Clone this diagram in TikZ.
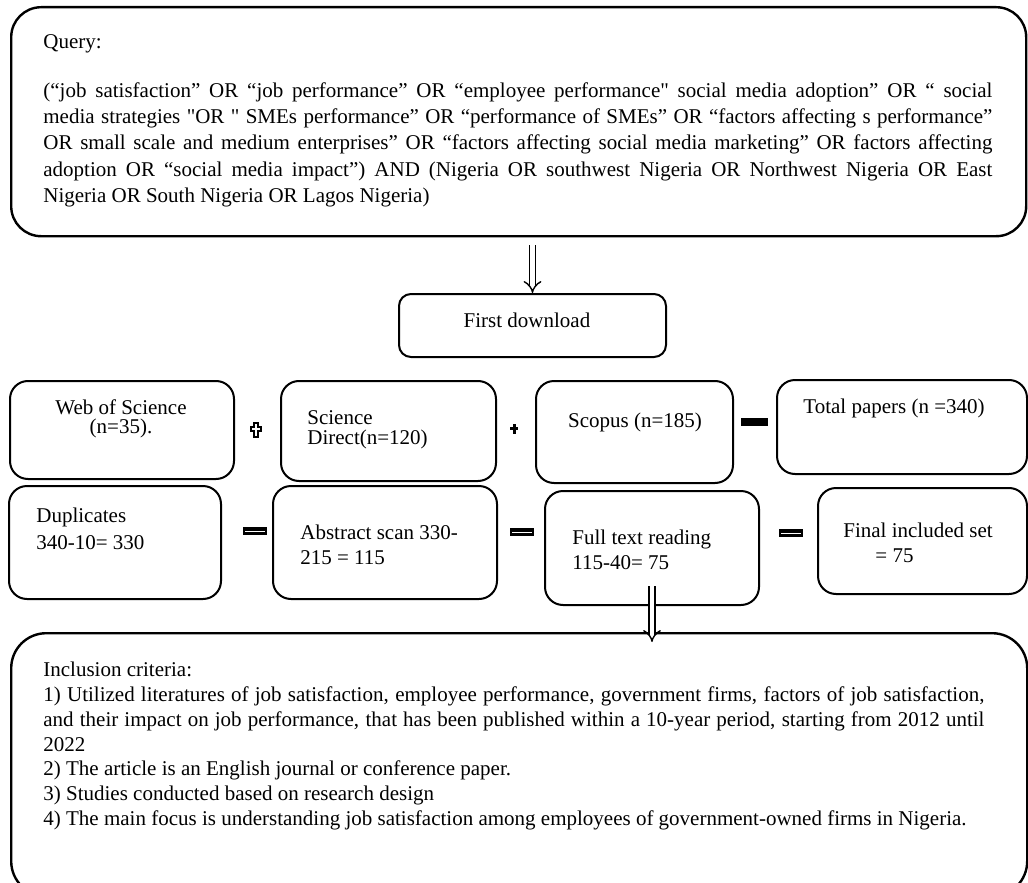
\documentclass[tikz,border=0pt]{standalone}
\usepackage{fontspec}
\setmainfont{Liberation Serif}[Ligatures=TeXOff]
\usetikzlibrary{arrows.meta}

\tikzset{
  box/.style={draw, line width=1pt, rounded corners=9pt, inner sep=0pt, anchor=north west},
  bigbox/.style={box, line width=1.2pt, rounded corners=16pt},
  txt/.style={inner sep=0pt, align=left, font=\fontsize{10.5}{12.5}\selectfont},
  flow/.style={double, double distance=2.4pt, line width=0.7pt, -{Implies[scale=1.5]}},
}

\begin{document}
\begin{tikzpicture}[x=0.5pt, y=-0.5pt]

  \newcommand\Px{0.5pt}
  \newcommand\EqBar[2]{\fill (#1-12,#2-4) rectangle (#1+12,#2+4);
    \draw[white, line width=0.5pt] (#1-10,#2) -- (#1+10,#2);}
  \newcommand\PlusOpen[2]{\draw[fill=white, line width=0.7pt] (#1-2,#2-7) -- (#1+2,#2-7) -- (#1+2,#2-3) -- (#1+5,#2-3) -- (#1+5,#2+1) -- (#1+2,#2+1) -- (#1+2,#2+7) -- (#1-2,#2+7) -- (#1-2,#2+1) -- (#1-5,#2+1) -- (#1-5,#2-3) -- (#1-2,#2-3) -- cycle;}
  \newcommand\PlusFill[2]{\fill (#1-1.5,#2-5) rectangle (#1+1.5,#2+5);
    \fill (#1-4,#2-2) rectangle (#1+4,#2+1);}

  \useasboundingbox (0,0) rectangle (1028,883);

  \node[bigbox, rounded corners=15pt, minimum width=1015*\Px, minimum height=229*\Px] (query) at (10,6) {};
  \node[box, rounded corners=6pt, minimum width=267*\Px, minimum height=63*\Px] (first) at (398,293) {};

  \node[box, minimum width=224*\Px, minimum height=98*\Px] (wos) at (9,380) {};
  \node[box, minimum width=215*\Px, minimum height=100*\Px] (sd) at (280,380) {};
  \node[box, minimum width=197*\Px, minimum height=102*\Px] (scopus) at (535,380) {};
  \node[box, minimum width=250*\Px, minimum height=94*\Px] (total) at (776,379) {};

  \node[box, minimum width=212*\Px, minimum height=113*\Px] (dup) at (8,485) {};
  \node[box, minimum width=224*\Px, minimum height=113*\Px] (abs) at (272,485) {};
  \node[box, minimum width=214*\Px, minimum height=114*\Px] (full) at (544,490) {};
  \node[box, minimum width=209*\Px, minimum height=106*\Px] (final) at (817,487) {};

  \node[bigbox, rounded corners=17.5pt, minimum width=1016*\Px, minimum height=263*\Px] (incl) at (10,632) {};

  \node[txt, anchor=north west, text width=949*\Px, align=justify, font=\fontsize{10.5}{13.15}\selectfont] (queryT) at (43,34)
    {Query:\\[11.35pt]
     (“job satisfaction” OR “job performance” OR “employee performance" social media adoption” OR “ social\linebreak
     media strategies "OR " SMEs performance” OR “performance of SMEs” OR “factors affecting s performance”\linebreak
     OR small scale and medium enterprises” OR “factors affecting social media marketing” OR factors affecting\linebreak
     adoption OR “social media impact”) AND (Nigeria OR southwest Nigeria OR Northwest Nigeria OR East\linebreak
     Nigeria OR South Nigeria OR Lagos Nigeria)};

  \node[txt] (firstT) at (527,320) {First download};

  \node[txt, align=center, font=\fontsize{10.5}{9.5}\selectfont] (wosT) at (121,419) {Web of Science\\(n=35).};
  \node[txt, anchor=west, font=\fontsize{10.5}{10}\selectfont] (sdT) at (307,430) {Science\\Direct(n=120)};
  \node[txt] (scopusT) at (635,422) {Scopus (n=185)};
  \node[txt, anchor=west] (totalT) at (803,408) {Total papers (n =340)};

  \node[txt, anchor=west, font=\fontsize{10.5}{13.5}\selectfont] (dupT) at (36,528.5) {Duplicates\\340-10= 330};
  \node[txt, anchor=west] (absT) at (300,544.5) {Abstract scan 330-\\215 = 115};
  \node[txt, anchor=west] (fullT) at (572,549.5) {Full text reading\\115-40= 75};
  \node[txt, anchor=west] (finalT) at (843,542.5) {Final included set\\\hspace*{16pt}= 75};

  \node[txt, anchor=north west, text width=941*\Px, align=justify, font=\fontsize{10.5}{12.35}\selectfont] (inclT) at (43,662)
    {Inclusion criteria:\\
     1) Utilized literatures of job satisfaction, employee performance, government firms, factors of job satisfaction,\linebreak
     and their impact on job performance, that has been published within a 10-year period, starting from 2012 until\linebreak
     2022\\
     2) The article is an English journal or conference paper.\\
     3) Studies conducted based on research design\\
     4) The main focus is understanding job satisfaction among employees of government-owned firms in Nigeria.};

  \PlusOpen{256}{430}
  \PlusFill{514}{429}
  \fill (741,418) rectangle (768,426);
  \EqBar{255}{531}
  \EqBar{522}{532}
  \EqBar{791}{533}

  \draw[flow, shorten <=4pt] (query.south -| first.north) -- (first.north);
  \draw[flow, shorten <=-10pt, shorten >=-5pt] (full.south) -- (full.south |- incl.north);

\end{tikzpicture}
\end{document}
